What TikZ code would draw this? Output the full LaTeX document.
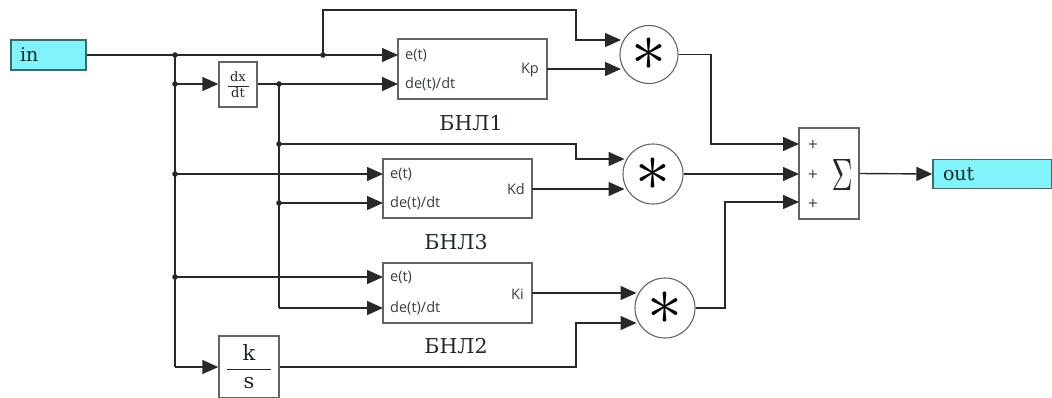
\documentclass[tikz,border=0pt]{standalone}
\usepackage{graphicx}
\usepackage{fontspec}
\setmainfont{DejaVu Serif}
\newfontfamily\labfont{Open Sans}
\usetikzlibrary{arrows.meta,calc}
\definecolor{wirec}{RGB}{40,40,40}
\definecolor{boxline}{RGB}{100,100,100}
\definecolor{cyanfill}{RGB}{128,244,250}
\definecolor{cyanline}{RGB}{60,105,105}
\definecolor{txt}{RGB}{30,40,40}
\definecolor{labtxt}{RGB}{55,65,55}
\begin{document}
\begin{tikzpicture}[x=1pt,y=-1pt,
  wire/.style={draw=wirec,line width=1.4pt},
  arr/.style={wire,-{Triangle[length=16pt,width=14pt]}},
  blk/.style={draw=boxline,line width=1.4pt,fill=white,inner sep=0pt},
  io/.style={draw=cyanline,line width=1.4pt,fill=cyanfill,inner sep=0pt,align=left,
    text=txt,font=\fontsize{19}{19}\selectfont},
  mult/.style={circle,draw=boxline,line width=1.1pt,fill=white,inner sep=0pt,minimum size=#1},
  lab/.style={font=\labfont\fontsize{14.5}{15}\selectfont,text=labtxt,inner sep=0pt},
  ser/.style={font=\fontsize{20.5}{20.5}\selectfont,text=txt,inner sep=0pt},
  dot/.style={fill=wirec}
]
\useasboundingbox (0,0) rectangle (1052,397);
\clip (0,0) rectangle (1052,397);

% blocks
\node[io,minimum width=75pt,minimum height=30pt,text width=57pt] (in) at (48.5,55) {in};
\node[io,minimum width=119pt,minimum height=29pt,text width=99pt] (out) at (992.5,174) {out};
\node[blk,minimum width=38pt,minimum height=45pt,font=\fontsize{13}{13}\selectfont,text=txt] (ddt) at (238,84.5)
  {$\displaystyle\frac{\makebox[21pt]{dx}}{\makebox[21pt]{dt}}$};
\node[blk,minimum width=60pt,minimum height=62pt,font=\fontsize{21}{21}\selectfont,text=txt] (ks) at (249,367)
  {$\displaystyle\frac{\makebox[44pt]{k}}{\makebox[44pt]{s}}$};
\node[blk,minimum width=149pt,minimum height=60pt] (bnl1) at (472.5,69) {};
\node[blk,minimum width=149pt,minimum height=59pt] (bnl3) at (457.5,188.5) {};
\node[blk,minimum width=149pt,minimum height=60pt] (bnl2) at (457.5,293) {};
\node[blk,minimum width=60pt,minimum height=91pt] (sum) at (829,173.5) {};
\node[mult=58pt] (m1) at (649,54.5) {};
\node[mult=60pt] (m2) at (653,174) {};
\node[mult=60pt] (m3) at (665,308) {};

% texts in blocks
\node[lab,anchor=west] (t1e) at (405,55) {e(t)};
\node[lab,anchor=west] (t1d) at (405,84) {de(t)/dt};
\node[lab,anchor=east] (t1k) at (539,70) {Kp};
\node[lab,anchor=west] (t3e) at (390,174) {e(t)};
\node[lab,anchor=west] (t3d) at (390,203) {de(t)/dt};
\node[lab,anchor=east] (t3k) at (525,189) {Kd};
\node[lab,anchor=west] (t2e) at (390,277) {e(t)};
\node[lab,anchor=west] (t2d) at (390,308) {de(t)/dt};
\node[lab,anchor=east] (t2k) at (524,294) {Ki};
\node[ser] (n1) at (471,123) {БНЛ1};
\node[ser] (n3) at (456,242) {БНЛ3};
\node[ser] (n2) at (456,346) {БНЛ2};
\node[lab,font=\labfont\fontsize{17}{17}\selectfont] (p1) at (813,145) {+};
\node[lab,font=\labfont\fontsize{17}{17}\selectfont] (p2) at (813,175) {+};
\node[lab,font=\labfont\fontsize{17}{17}\selectfont] (p3) at (813,204) {+};
\node[inner sep=0pt,text=txt] (sig) at (842,175) {\resizebox{21pt}{31pt}{$\Sigma$}};
\node[inner sep=0pt,text=black] (a1) at (m1) {\resizebox{35pt}{!}{$\ast$}};
\node[inner sep=0pt,text=black] (a2) at (m2) {\resizebox{35pt}{!}{$\ast$}};
\node[inner sep=0pt,text=black] (a3) at (m3) {\resizebox{35pt}{!}{$\ast$}};

% ports and junctions
\coordinate (b1e) at (398,55);  \coordinate (b1d) at (398,84);  \coordinate (b1o) at (547,69);
\coordinate (b3e) at (383,174); \coordinate (b3d) at (383,203); \coordinate (b3o) at (532,189);
\coordinate (b2e) at (383,277); \coordinate (b2d) at (383,308); \coordinate (b2o) at (532,293);
\coordinate (m1a) at (621,40);  \coordinate (m1b) at (621,69);
\coordinate (m2a) at (624.5,159); \coordinate (m2b) at (624.5,189);
\coordinate (m3a) at (636.5,293); \coordinate (m3b) at (636.5,323);
\coordinate (s1) at (799,144); \coordinate (s2) at (799,174); \coordinate (s3) at (799,202);
\coordinate (j1) at (175,55);  \coordinate (j2) at (175,84);
\coordinate (j3) at (175,174); \coordinate (j4) at (175,277); \coordinate (c5) at (175,367);
\coordinate (j6) at (323,55);  \coordinate (c6a) at (323,10); \coordinate (c6b) at (576,10); \coordinate (c6c) at (576,40);
\coordinate (d1) at (279,84);  \coordinate (d2) at (279,144); \coordinate (d3) at (279,203); \coordinate (c4) at (279,308);
\coordinate (c7) at (576,144); \coordinate (c8) at (576,159);
\coordinate (c9) at (576,367); \coordinate (c10) at (576,323);
\coordinate (c11) at (711,54.5); \coordinate (c12) at (711,144);
\coordinate (c13) at (725,308); \coordinate (c14) at (725,202);

% connectors
\draw[arr] (in.east) -- (b1e);
\draw[wire] (j1) -- (c5);
\draw[arr] (c5) -- (ks.west);
\draw[arr] (j2) -- (ddt.west |- j2);
\draw[arr] (ddt.east |- d1) -- (b1d);
\draw[wire] (d1) -- (c4);
\draw[arr] (c4) -- (b2d);
\draw[arr] (j3) -- (b3e);
\draw[arr] (d3) -- (b3d);
\draw[arr] (j4) -- (b2e);
\draw[arr] (j6) -- (c6a) -- (c6b) -- (c6c) -- (m1a);
\draw[arr] (b1o) -- (m1b);
\draw[arr] (d2) -- (c7) -- (c8) -- (m2a);
\draw[arr] (b3o) -- (m2b);
\draw[arr] (b2o) -- (m3a);
\draw[arr] (ks.east) -- (c9) -- (c10) -- (m3b);
\draw[arr] (m1.east) -- (c11) -- (c12) -- (s1);
\draw[arr] (m2.east) -- (s2);
\draw[arr] (m3.east) -- (c13) -- (c14) -- (s3);
\draw[arr] (sum.east) -- (out.west);

% junction dots
\foreach \p in {j1,j2,j3,j4,j6,d1,d2,d3}
  \fill[dot] (\p) circle (2.8pt);
\end{tikzpicture}
\end{document}
